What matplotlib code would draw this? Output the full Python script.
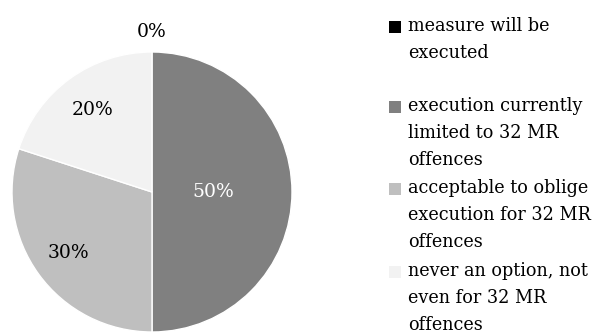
import numpy as np
import matplotlib
matplotlib.use("Agg")
import matplotlib.pyplot as plt
from matplotlib.patches import Rectangle

categories = [
    "measure will be\nexecuted",
    "execution currently\nlimited to 32 MR\noffences",
    "acceptable to oblige\nexecution for 32 MR\noffences",
    "never an option, not\neven for 32 MR\noffences",
]
shares = [0, 50, 30, 20]
colors = ["#000000", "#808080", "#bfbfbf", "#f2f2f2"]
label_colors = ["black", "white", "black", "black"]
label_radius = [1.14, 0.44, 0.74, 0.72]

FONT = "DejaVu Serif"
FS_LEG = 12.7
FS_PIE = 13.5
W, H = 601, 334

fig = plt.figure(figsize=(W / 100, H / 100), dpi=100)
ax = fig.add_axes([12 / W, 2 / H, 280 / W, 280 / H])
wedges, _ = ax.pie(shares, colors=colors, startangle=90, counterclock=False,
                   radius=1.0, wedgeprops=dict(edgecolor="white", linewidth=1.0))
ax.set_xlim(-1, 1); ax.set_ylim(-1, 1)
ax.axis("off")

total = sum(shares)
for w, v, r, c in zip(wedges, shares, label_radius, label_colors):
    mid = np.deg2rad((w.theta1 + w.theta2) / 2)
    ax.text(r * np.cos(mid), r * np.sin(mid), f"{v / total:.0%}",
            ha="center", va="center", fontsize=FS_PIE, family=FONT, color=c)

# legend, drawn by hand to match the stacked wrapped entries
item_top = [26, 106, 188, 271]
for lab, col, y in zip(categories, colors, item_top):
    fig.patches.append(Rectangle((389 / W, (H - y - 7) / H), 12 / W, 12 / H,
                                 transform=fig.transFigure, facecolor=col,
                                 edgecolor="none"))
    for k, line in enumerate(lab.split("\n")):
        fig.text(408 / W, (H - y - k * 27) / H, line, ha="left", va="center",
                 fontsize=FS_LEG, family=FONT, color="black")

fig.savefig("out.png", dpi=100)
